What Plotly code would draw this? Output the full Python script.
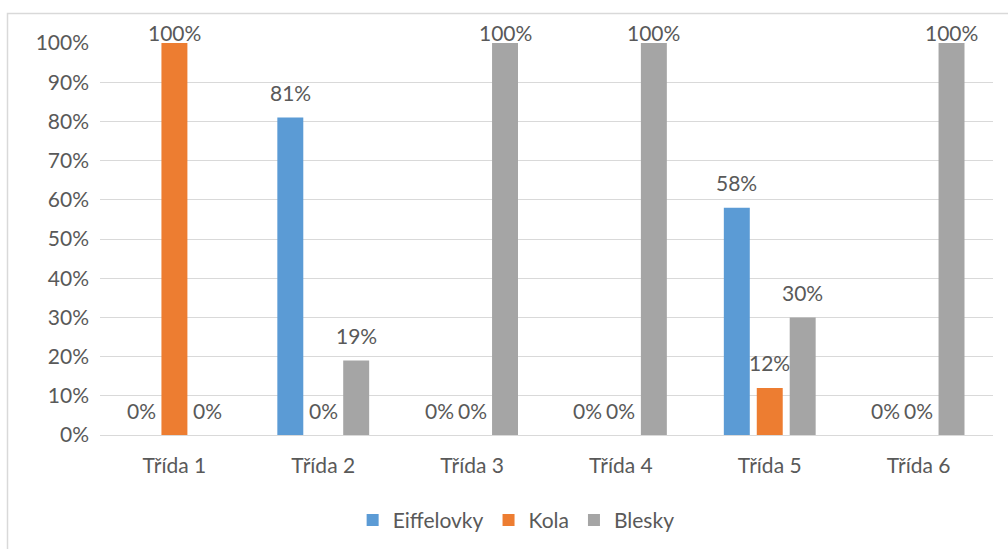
import plotly.graph_objects as go

categories = ["Třída 1", "Třída 2", "Třída 3", "Třída 4", "Třída 5", "Třída 6"]
eiffelovky = [0.00, 0.81, 0.00, 0.00, 0.58, 0.00]
kola = [1.00, 0.00, 0.00, 0.00, 0.12, 0.00]
blesky = [0.00, 0.19, 1.00, 1.00, 0.30, 1.00]
tick_vals = [0, 0.1, 0.2, 0.3, 0.4, 0.5, 0.6, 0.7, 0.8, 0.9, 1.0]
tick_text = ["0%", "10%", "20%", "30%", "40%", "50%", "60%", "70%", "80%", "90%", "100%"]

series = [
    ("Eiffelovky", eiffelovky, "#5b9bd5"),
    ("Kola", kola, "#ed7d31"),
    ("Blesky", blesky, "#a5a5a5"),
]

FONT = "Lato"
SIZE = 21
TEXT = "#595959"

fig = go.Figure()
for name, vals, color in series:
    fig.add_trace(go.Bar(
        name=name, x=categories, y=vals,
        marker=dict(color=color, line=dict(width=0)),
        offsetgroup=name,
    ))

# value labels above each bar, kept inside the chart frame at the top
slot = 33  # pixel distance between bars inside a group
for i, (name, vals, color) in enumerate(series):
    for cat, v in zip(categories, vals):
        fig.add_annotation(
            x=cat, y=v, xref="x", yref="y",
            text=f"{round(v * 100)}%", showarrow=False,
            xshift=(i - 1) * slot, yshift=11 if v >= 1.0 else 25,
            yanchor="middle",
            font=dict(family=FONT, size=SIZE, color=TEXT),
        )

# outer chart border
fig.add_shape(type="rect", xref="paper", yref="paper",
              x0=(7.5 - 100) / 893, x1=1.2, y0=-0.6, y1=1 + 29.5 / 392,
              line=dict(color="#d9d9d9", width=1.5), fillcolor="rgba(0,0,0,0)",
              layer="below")

fig.update_layout(
    width=1008, height=549,
    margin=dict(l=100, r=15, t=43, b=114, autoexpand=False),
    paper_bgcolor="white", plot_bgcolor="white",
    barmode="group", bargap=0.336, bargroupgap=0.212,
    font=dict(family=FONT, size=SIZE, color=TEXT),
    showlegend=True,
    legend=dict(orientation="h", x=0.466, xanchor="center", y=-0.218, yanchor="middle",
                font=dict(family=FONT, size=SIZE, color=TEXT),
                itemwidth=30, traceorder="normal"),
    xaxis=dict(showgrid=False, showline=False, ticks="", tickfont=dict(size=SIZE, color=TEXT),
               ticklabelstandoff=16),
    yaxis=dict(range=[0, 1.0], tickvals=tick_vals, ticktext=tick_text,
               showgrid=True, gridcolor="#d9d9d9", gridwidth=1,
               zeroline=True, zerolinecolor="#d9d9d9", zerolinewidth=1,
               showline=False, ticks="", tickfont=dict(size=SIZE, color=TEXT),
               ticklabelstandoff=10),
)

fig.write_html("out.html")
